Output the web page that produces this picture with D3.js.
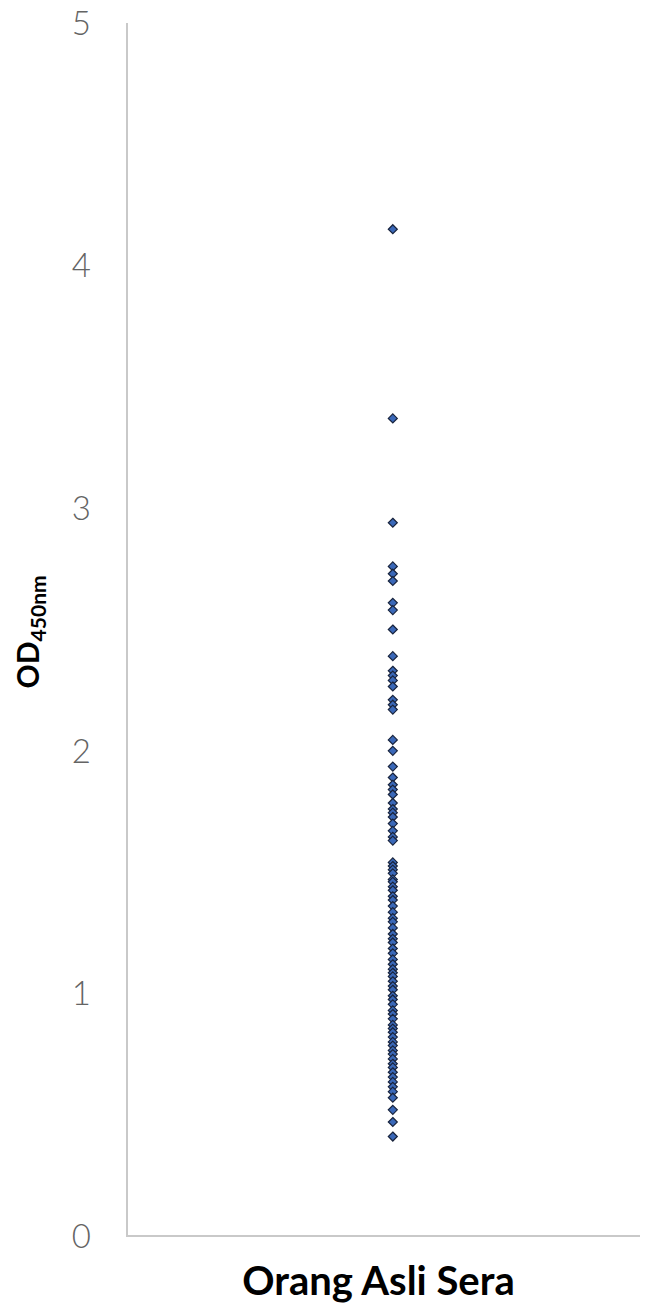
<!DOCTYPE html>
<html>
<head>
<meta charset="utf-8">
<script src="https://cdn.jsdelivr.net/npm/d3@7"></script>
<style>
  html, body { margin: 0; padding: 0; background: #fff; }
  svg { display: block; }
</style>
</head>
<body>
<div id="chart"></div>
<script>
// Category shown on the horizontal axis
const categories = ["Orang Asli Sera"];

// OD450nm readings for each serum sample
const odValues = [
  4.15, 3.37, 2.94,
  2.76, 2.73, 2.70, 2.61, 2.58, 2.50, 2.39,
  2.33, 2.31, 2.29, 2.265, 2.21, 2.19, 2.17,
  2.045, 2.00, 1.935, 1.89, 1.86, 1.84, 1.82,
  1.785, 1.76, 1.745, 1.727, 1.70, 1.67, 1.645, 1.63,
  1.54, 1.525, 1.51, 1.495, 1.47, 1.46, 1.44, 1.425, 1.40, 1.385,
  1.36, 1.335, 1.31, 1.295, 1.27, 1.245, 1.225, 1.21, 1.185, 1.165,
  1.14, 1.12, 1.10, 1.085, 1.07, 1.05, 1.03, 1.015, 0.99, 0.975,
  0.955, 0.93, 0.915, 0.895, 0.87, 0.855, 0.84, 0.82, 0.80, 0.785,
  0.765, 0.75, 0.73, 0.71, 0.695, 0.675, 0.655, 0.635, 0.615, 0.595,
  0.57, 0.52, 0.47, 0.41
];

// Y-axis tick labels
const yTicks = [0, 1, 2, 3, 4, 5];

const width = 646, height = 1308;
const plot = { left: 127, right: 640, top: 23, bottom: 1236 };

const svg = d3.select("#chart").append("svg")
  .attr("width", width)
  .attr("height", height);

const y = d3.scaleLinear().domain([0, 5]).range([plot.bottom, plot.top]);
const x = d3.scaleLinear().domain([0, 1.93]).range([plot.left, plot.right]);

// Axis lines
svg.append("line")
  .attr("x1", plot.left).attr("x2", plot.left)
  .attr("y1", y(5)).attr("y2", y(0))
  .attr("stroke", "#c9c9c9").attr("stroke-width", 2);
svg.append("line")
  .attr("x1", plot.left - 1).attr("x2", plot.right)
  .attr("y1", y(0)).attr("y2", y(0))
  .attr("stroke", "#c9c9c9").attr("stroke-width", 2);

// Tick labels
svg.append("g").selectAll("text")
  .data(yTicks)
  .join("text")
  .attr("x", 91)
  .attr("y", d => y(d))
  .attr("dy", "0.36em")
  .attr("text-anchor", "end")
  .attr("font-family", "Lato, 'Open Sans', sans-serif")
  .attr("font-weight", 300)
  .attr("font-size", 33)
  .attr("fill", "#646464")
  .text(d => d);

// Y axis title with subscript
const yTitle = svg.append("text")
  .attr("transform", `translate(39, ${y(2.49)}) rotate(-90)`)
  .attr("text-anchor", "middle")
  .attr("font-family", "Lato, 'Open Sans', sans-serif")
  .attr("font-weight", "bold")
  .attr("font-size", 30)
  .attr("fill", "#000");
yTitle.append("tspan").text("OD");
yTitle.append("tspan")
  .attr("font-size", 21)
  .attr("dy", 7)
  .text("450nm");

// X axis category label
svg.append("text")
  .attr("x", (plot.left + plot.right) / 2 - 5)
  .attr("y", 1295)
  .attr("text-anchor", "middle")
  .attr("font-family", "Lato, 'Open Sans', sans-serif")
  .attr("font-weight", "bold")
  .attr("font-size", 40)
  .attr("fill", "#000")
  .text(categories[0]);

// Diamond markers
const diamond = {
  draw(ctx, size) {
    const r = Math.sqrt(size) / 2;
    ctx.moveTo(0, -r);
    ctx.lineTo(r, 0);
    ctx.lineTo(0, r);
    ctx.lineTo(-r, 0);
    ctx.closePath();
  }
};

svg.append("g").selectAll("path")
  .data(odValues)
  .join("path")
  .attr("transform", d => `translate(${x(1)}, ${y(d)})`)
  .attr("d", d3.symbol(diamond, 81))
  .attr("fill", "#3a68b8")
  .attr("stroke", "#18233c")
  .attr("stroke-width", 1.2);
</script>
</body>
</html>
